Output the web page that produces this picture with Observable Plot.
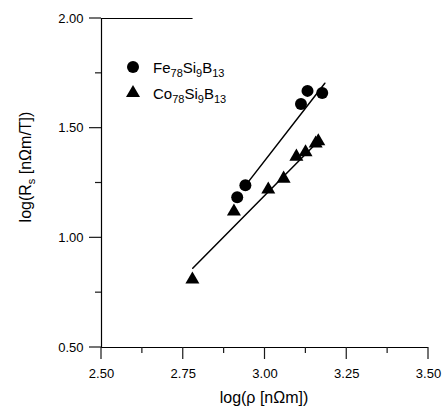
<!DOCTYPE html>
<html>
<head>
<meta charset="utf-8">
<script src="https://cdn.jsdelivr.net/npm/d3@7"></script>
<script src="https://cdn.jsdelivr.net/npm/@observablehq/plot@0.6"></script>
<style>
  html, body { margin: 0; padding: 0; background: white; }
  #chart { width: 443px; height: 412px; }
  #chart svg { font-family: 'Liberation Sans', Arial, sans-serif; color: black; background: white; }
</style>
</head>
<body>
<div id="chart"></div>
<script>
// ---- data ----
const feX = [2.915, 2.94, 3.11, 3.13, 3.175];
const feY = [1.185, 1.24, 1.61, 1.67, 1.66];
const coX = [2.778, 2.905, 3.01, 3.057, 3.096, 3.124, 3.155, 3.163];
const coY = [0.81, 1.12, 1.22, 1.27, 1.37, 1.39, 1.43, 1.44];
// fitted lines (end points)
const feFitX = [2.94, 3.183];
const feFitY = [1.238, 1.705];
const coFitX = [2.779, 3.16];
const coFitY = [0.861, 1.436];
// axes
const xTicks = [2.5, 2.75, 3.0, 3.25, 3.5];
const xMinor = [2.625, 2.875, 3.125, 3.375];
const yTicks = [0.5, 1.0, 1.5, 2.0];
const yMinor = [0.75, 1.25, 1.75];
const xDomain = [2.5, 3.5];
const yDomain = [0.5, 2.0];
const topLineEnd = 2.78;

const fe = feX.map((x, i) => ({x, y: feY[i]}));
const co = coX.map((x, i) => ({x, y: coY[i]}));
const feFit = feFitX.map((x, i) => ({x, y: feFitY[i]}));
const coFit = coFitX.map((x, i) => ({x, y: coFitY[i]}));

const fmt = d3.format(".2f");
const font = "'Liberation Sans', Arial, sans-serif";
const major = 12, minor = 6;

const plot = Plot.plot({
  width: 443,
  height: 412,
  marginLeft: 101,
  marginRight: 15,
  marginTop: 18,
  marginBottom: 65,
  x: {domain: xDomain},
  y: {domain: yDomain},
  marks: [
    Plot.axisX({ticks: xTicks, tickSize: 0, tickPadding: 21, tickFormat: fmt, label: null}),
    Plot.axisY({ticks: yTicks, tickSize: 0, tickPadding: 18, tickFormat: fmt, label: null}),
    // axis lines
    Plot.ruleY([yDomain[0]], {stroke: "black", strokeWidth: 1.2}),
    Plot.ruleX([xDomain[0]], {stroke: "black", strokeWidth: 1.2}),
    Plot.ruleY([yDomain[1]], {x1: xDomain[0], x2: topLineEnd, stroke: "black", strokeWidth: 1.2}),
    // fits and data
    Plot.line(feFit, {x: "x", y: "y", stroke: "black", strokeWidth: 1.5}),
    Plot.line(coFit, {x: "x", y: "y", stroke: "black", strokeWidth: 1.5}),
    Plot.dot(fe, {x: "x", y: "y", r: 6, fill: "black", symbol: "circle"}),
    Plot.dot(co, {x: "x", y: "y", r: 5.2, fill: "black", symbol: "triangle"})
  ]
});

document.getElementById("chart").appendChild(plot);

const svg = d3.select(plot);
svg.selectAll('g[aria-label$="tick label"] text').style("font-size", "13px");

// ---- tick marks as thin filled rects, positioned with the plot's own scales ----
const sx = plot.scale("x"), sy = plot.scale("y");
const x0 = sx.apply(xDomain[0]), y0 = sy.apply(yDomain[0]);
const tg = svg.append("g").attr("fill", "#1a1a1a").attr("stroke", "none");
[[xTicks, major], [xMinor, minor]].forEach(([vals, len]) => vals.forEach(v =>
  tg.append("rect").attr("x", sx.apply(v) - 0.6).attr("y", y0).attr("width", 1.2).attr("height", len)));
[[yTicks, major], [yMinor, minor]].forEach(([vals, len]) => vals.forEach(v =>
  tg.append("rect").attr("x", x0 - len).attr("y", sy.apply(v) - 0.6).attr("width", len).attr("height", 1.2)));

// ---- axis titles and legend with subscripts ----
const ytitle = svg.append("text")
  .attr("transform", "translate(31,167) rotate(-90)")
  .attr("text-anchor", "middle")
  .style("font-family", font).style("font-size", "16px").attr("fill", "black");
ytitle.append("tspan").text("log(R");
ytitle.append("tspan").attr("font-size", "11px").attr("dy", 4).text("s");
ytitle.append("tspan").attr("dy", -4).text(" [nΩm/T])");

svg.append("text")
  .attr("x", 264).attr("y", 403)
  .attr("text-anchor", "middle")
  .style("font-family", font).style("font-size", "16px").attr("fill", "black")
  .text("log(ρ [nΩm])");

const legend = [
  {symbol: d3.symbolCircle, size: Math.PI * 36, parts: [["Fe", 0], ["78", 1], ["Si", 0], ["9", 1], ["B", 0], ["13", 1]], y: 67},
  {symbol: d3.symbolTriangle, size: Math.PI * 5.2 * 5.2, parts: [["Co", 0], ["78", 1], ["Si", 0], ["9", 1], ["B", 0], ["13", 1]], y: 93}
];
legend.forEach(item => {
  svg.append("path")
    .attr("d", d3.symbol(item.symbol, item.size)())
    .attr("transform", `translate(133,${item.y})`)
    .attr("fill", "black");
  const t = svg.append("text")
    .attr("x", 153).attr("y", item.y + 5.5)
    .attr("text-anchor", "start")
    .style("font-family", font).style("font-size", "15px").attr("fill", "black");
  let sub = 0;
  item.parts.forEach(([s, isSub]) => {
    const dy = isSub && !sub ? 4 : (!isSub && sub ? -4 : 0);
    t.append("tspan").attr("dy", dy).attr("font-size", isSub ? "11px" : "15px").text(s);
    sub = isSub;
  });
});
</script>
</body>
</html>
